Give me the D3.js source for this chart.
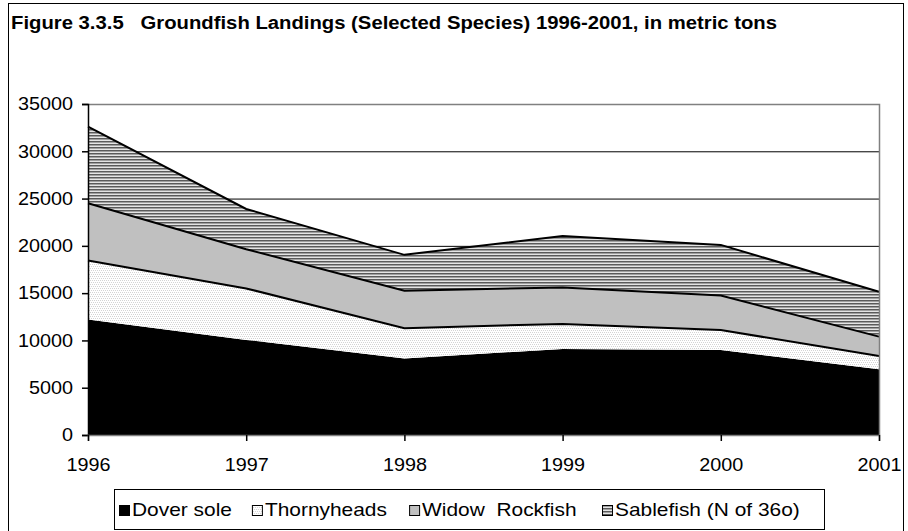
<!DOCTYPE html>
<html lang="en">
<head>
  <meta charset="UTF-8">
  <title>Groundfish Landings</title>
  <script src="https://cdn.jsdelivr.net/npm/d3@7"></script>
  <style>
    body { margin: 0; background: #fff; }
    text { font-family: "Liberation Sans", Arial, sans-serif; white-space: pre; }
  </style>
</head>
<body>
<script>
  // data (metric tons)
  const years = ["1996", "1997", "1998", "1999", "2000", "2001"];
  const doverSole = [12200, 10050, 8100, 9100, 9000, 6950];
  const thornyheads = [6250, 5450, 3200, 2650, 2100, 1400];
  const widowRockfish = [6050, 4150, 3950, 3850, 3650, 2050];
  const sablefish = [8100, 4250, 3800, 5450, 5350, 4750];
  const seriesNames = ["Dover sole", "Thornyheads", "Widow  Rockfish", "Sablefish (N of 36o)"];
  const yTicks = [0, 5000, 10000, 15000, 20000, 25000, 30000, 35000];

  const width = 908, height = 531;
  const plot = { left: 88, right: 879, top: 104, bottom: 435 };

  const svg = d3.select("body").append("svg")
    .attr("width", width)
    .attr("height", height);

  // the original's Arial is a bit wider than ours
  function widen(sel, k) {
    sel.each(function () {
      const w = this.getComputedTextLength();
      d3.select(this).attr("textLength", w * k).attr("lengthAdjust", "spacingAndGlyphs");
    });
  }

  // fill patterns
  const defs = svg.append("defs");
  const dots = defs.append("pattern")
    .attr("id", "dots").attr("patternUnits", "userSpaceOnUse")
    .attr("width", 4).attr("height", 4);
  dots.append("rect").attr("width", 4).attr("height", 4).attr("fill", "#fff");
  [[0, 0], [2, 0], [1, 2], [3, 2]].forEach(p => {
    dots.append("rect").attr("x", p[0]).attr("y", p[1]).attr("width", 1).attr("height", 1).attr("fill", "#d4d4d4");
  });

  const stripes = defs.append("pattern")
    .attr("id", "stripes").attr("patternUnits", "userSpaceOnUse")
    .attr("width", 4).attr("height", 3);
  stripes.append("rect").attr("width", 4).attr("height", 1).attr("y", 0).attr("fill", "#5a5a5a");
  stripes.append("rect").attr("width", 4).attr("height", 1).attr("y", 1).attr("fill", "#a0a0a0");
  stripes.append("rect").attr("width", 4).attr("height", 1).attr("y", 2).attr("fill", "#e4e4e4");

  const fills = ["#000", "url(#dots)", "#c0c0c0", "url(#stripes)"];

  // outer frame
  svg.append("rect")
    .attr("x", 8.5).attr("y", 3.5)
    .attr("width", 895).attr("height", 540)
    .attr("fill", "none").attr("stroke", "#000").attr("stroke-width", 1);

  svg.append("text")
    .attr("x", 11).attr("y", 29)
    .attr("font-size", 18).attr("font-weight", "bold")
    .attr("textLength", 766).attr("lengthAdjust", "spacingAndGlyphs")
    .text("Figure 3.3.5   Groundfish Landings (Selected Species) 1996-2001, in metric tons");

  const x = d3.scalePoint().domain(years).range([plot.left, plot.right]);
  const y = d3.scaleLinear().domain([0, 35000]).range([plot.bottom, plot.top]);

  // gridlines
  svg.append("g")
    .selectAll("line")
    .data(yTicks.filter(d => d > 0 && d < 35000))
    .join("line")
    .attr("x1", plot.left).attr("x2", plot.right)
    .attr("y1", d => y(d) + 0.5).attr("y2", d => y(d) + 0.5)
    .attr("stroke", "#000").attr("stroke-width", 1);

  // stacked areas
  const rows = years.map((yr, i) => ({
    year: yr, s0: doverSole[i], s1: thornyheads[i], s2: widowRockfish[i], s3: sablefish[i]
  }));
  const stacked = d3.stack().keys(["s0", "s1", "s2", "s3"])(rows);

  const area = d3.area()
    .x(d => x(d.data.year))
    .y0(d => y(d[0]))
    .y1(d => y(d[1]));
  const topLine = d3.line()
    .x(d => x(d.data.year))
    .y(d => y(d[1]));

  svg.append("g")
    .selectAll("path")
    .data(stacked)
    .join("path")
    .attr("d", area)
    .attr("fill", (d, i) => fills[i]);

  svg.append("g")
    .selectAll("path")
    .data(stacked.slice(1))
    .join("path")
    .attr("d", topLine)
    .attr("fill", "none")
    .attr("stroke", "#000")
    .attr("stroke-width", 2);

  // plot frame: top and right in gray
  svg.append("path")
    .attr("d", `M${plot.left},${plot.top + 0.5}H${plot.right + 0.5}V${plot.bottom}`)
    .attr("fill", "none").attr("stroke", "#808080").attr("stroke-width", 1.5);

  // y axis
  const yAxis = svg.append("g")
    .attr("transform", `translate(${plot.left},0)`)
    .call(d3.axisLeft(y).tickValues(yTicks).tickSize(6).tickPadding(9).tickFormat(d3.format("d")));
  yAxis.select(".domain").attr("stroke", "#000").attr("stroke-width", 1.5);
  yAxis.selectAll(".tick line").attr("stroke", "#000").attr("stroke-width", 1.5);
  yAxis.selectAll("text").attr("font-size", 18).attr("fill", "#000")
    .style("font-family", "'Liberation Sans', Arial, sans-serif")
    .call(widen, 1.1);

  // x axis
  const xAxis = svg.append("g")
    .attr("transform", `translate(0,${plot.bottom})`)
    .call(d3.axisBottom(x).tickSize(6).tickPadding(17));
  xAxis.select(".domain").attr("stroke", "#808080").attr("stroke-width", 1.5);
  xAxis.selectAll(".tick line").attr("stroke", "#000").attr("stroke-width", 1.5);
  xAxis.selectAll("text").attr("font-size", 18).attr("fill", "#000")
    .style("font-family", "'Liberation Sans', Arial, sans-serif")
    .call(widen, 1.1);

  // legend
  const legend = svg.append("g");
  legend.append("rect")
    .attr("x", 114.5).attr("y", 489.5)
    .attr("width", 710).attr("height", 40)
    .attr("fill", "#fff").attr("stroke", "#000");
  const items = legend.append("g").attr("transform", "translate(119,505)");
  let lx = 0;
  seriesNames.forEach((name, i) => {
    const it = items.append("g").attr("transform", `translate(${lx},0)`);
    it.append("rect")
      .attr("x", 0.5).attr("y", 0.5).attr("width", 10).attr("height", 10)
      .attr("fill", fills[i]).attr("stroke", "#000");
    const t = it.append("text")
      .attr("x", 13).attr("y", 11)
      .attr("font-size", 19)
      .text(name)
      .call(widen, 1.1);
    lx += 13 + t.node().getComputedTextLength() * 1.1 + 10;
  });
</script>
</body>
</html>
